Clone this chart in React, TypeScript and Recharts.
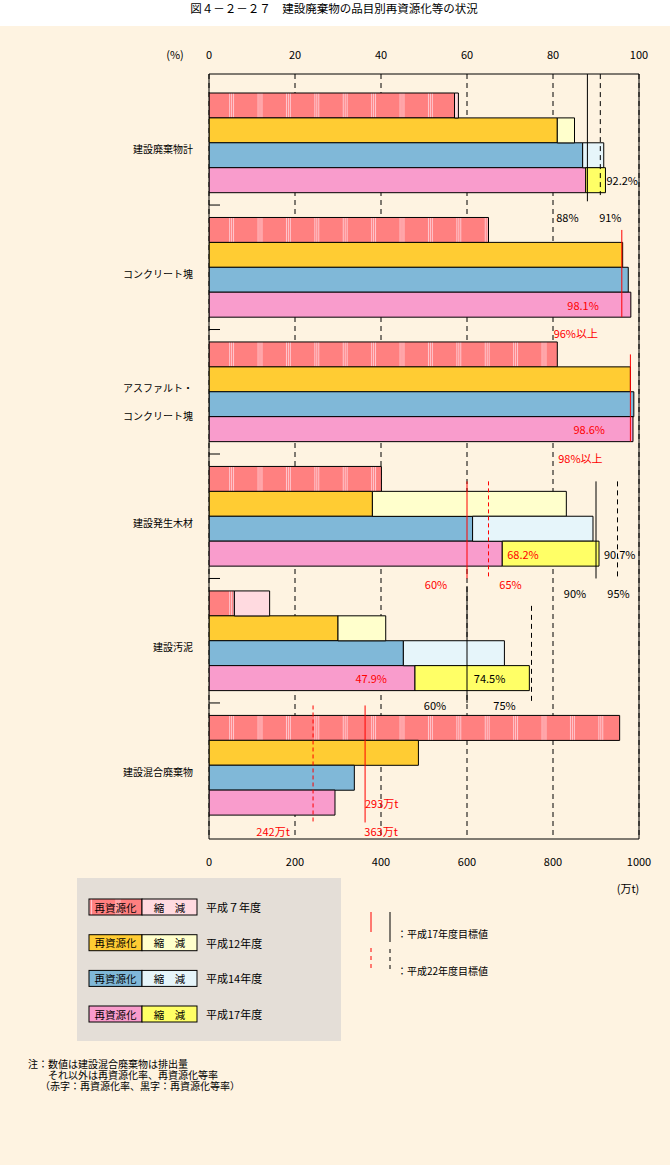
import React from 'react'
import { BarChart, Bar, XAxis, YAxis, CartesianGrid, Cell, ReferenceLine, ReferenceDot } from 'recharts'

const FONT = "'Noto Sans CJK JP', 'Noto Sans', sans-serif"
const BEIGE = '#FEF3E1'

const GROUPS = ['建設廃棄物計', 'コンクリート塊', 'アスファルト・コンクリート塊', '建設発生木材', '建設汚泥', '建設混合廃棄物']
const YEARS = ['平成７年度', '平成12年度', '平成14年度', '平成17年度']

// 再資源化率 (%), GROUPS[0..4] x YEARS
const RECYCLE_RATE = [
  [57.1, 81.0, 86.9, 87.6],
  [65.0, 96.2, 97.5, 98.1],
  [81.0, 98.0, 98.8, 98.6],
  [40.1, 38.0, 61.3, 68.2],
  [5.9, 30.0, 45.2, 47.9],
]
// 再資源化等率 (%), null = no 縮減 part drawn
const RECOVERY_RATE: (number | null)[][] = [
  [58.0, 85.0, 91.8, 92.2],
  [null, null, null, null],
  [null, null, null, null],
  [null, 83.1, 89.3, 90.7],
  [14.1, 41.1, 68.7, 74.5],
]
// 建設混合廃棄物 排出量 (万t)
const MIXED_WASTE = [955, 487, 338, 293]

const PCT_TICKS = [0, 20, 40, 60, 80, 100]
const TON_TICKS = [0, 200, 400, 600, 800, 1000]
const TON_TO_PCT = 0.1 // 1000万t spans the same width as 100%

// 目標値: [group, value, 平成17(solid)/22(dashed), red text?, label]
const TARGETS: [number, number, 17 | 22, boolean, string][] = [
  [0, 88, 17, false, '88%'],
  [0, 91, 22, false, '91%'],
  [1, 96, 17, true, '96%以上'],
  [2, 98, 17, true, '98%以上'],
  [3, 60, 17, true, '60%'],
  [3, 65, 22, true, '65%'],
  [3, 90, 17, false, '90%'],
  [3, 95, 22, false, '95%'],
  [4, 60, 17, false, '60%'],
  [4, 75, 22, false, '75%'],
  [5, 363, 17, true, '363万t'],
  [5, 242, 22, true, '242万t'],
]
// line span / label row (row units from the first bar's top edge) and label shift, same order as TARGETS
const TARGET_LAYOUT = [
  { from: -0.76, to: 4.35, ly: 4.98, dx: -20 },
  { from: -0.76, to: 4.1, ly: 4.98, dx: 10 },
  { from: 5.5, to: 9, ly: 9.64, dx: -46 },
  { from: 10.5, to: 14, ly: 14.66, dx: -50 },
  { from: 15.6, to: 19.5, ly: 19.72, dx: -31 },
  { from: 15.6, to: 19.5, ly: 19.72, dx: 22 },
  { from: 15.6, to: 19.5, ly: 20.08, dx: -21 },
  { from: 15.6, to: 19.5, ly: 20.08, dx: 1 },
  { from: 19.8, to: 24.5, ly: 24.6, dx: -32 },
  { from: 20.6, to: 24.5, ly: 24.6, dx: -27 },
  { from: 24.6, to: 29.3, ly: 29.64, dx: 16 },
  { from: 24.6, to: 29.3, ly: 29.64, dx: -40 },
]
// label shift from the 平成17年度 bar end (null = no label)
const REC_LABEL_DX = [null, -32, -28, 5, -28, 30]
const TOTAL_LABEL_DX = [1, null, null, 5, -24, null]

const REC_FILL = ['url(#stripeH7)', '#FFCC33', '#80B8D8', '#F99CCC']
const RED_FILL = ['#FFDAE0', '#FFFFCC', '#E6F5FA', '#FFFF66']
const LEGEND_FILL = ['#FF8080', '#FFCC33', '#80B8D8', '#F99CCC']

type Row = { key: string; group: number; year: number | null; rec: number | null; red: number | null }
const rows: Row[] = []
GROUPS.forEach((_, gi) => {
  YEARS.forEach((__, yi) => {
    if (gi < RECYCLE_RATE.length) {
      const rec = RECYCLE_RATE[gi][yi]
      const total = RECOVERY_RATE[gi][yi]
      rows.push({ key: `${gi}-${yi}`, group: gi, year: yi, rec, red: total == null ? null : +(total - rec).toFixed(2) })
    } else {
      rows.push({ key: `${gi}-${yi}`, group: gi, year: yi, rec: MIXED_WASTE[yi] * TON_TO_PCT, red: null })
    }
  })
  if (gi < GROUPS.length - 1) rows.push({ key: `gap-${gi}`, group: gi, year: null, rec: null, red: null })
})
const ROW_COUNT = rows.length
const PLOT_H = 765
const PAD = { top: 19, bottom: 24 }
// hidden row axis (domain = row index): one unit per bar row
const ROW_PX = (PLOT_H - PAD.top - PAD.bottom) / ROW_COUNT
const ROW_PAD = { top: PAD.top, bottom: PAD.bottom + ROW_PX }

function CategoryTick(props: any) {
  const { x, y, payload } = props
  const row = rows.find(r => r.key === payload.value)
  if (!row) return null
  if (row.year === null) return <line x1={x + 16} x2={x + 27} y1={y} y2={y} stroke="#000" />
  if (row.year !== 2) return null
  const name = GROUPS[row.group]
  const lines = name === 'アスファルト・コンクリート塊' ? ['アスファルト・', 'コンクリート塊'] : [name]
  const ys = lines.length === 2 ? [y - 16.5, y + 11.5] : [y - 6.5]
  return (
    <g>
      {lines.map((t, i) => (
        <text key={t} x={x} y={ys[i]} textAnchor="end" dominantBaseline="central" fontSize={10} fontFamily={FONT} fill="#000">{t}</text>
      ))}
    </g>
  )
}

const textAt = (text: string, dx: number, color: string, anchor: 'start' | 'middle' | 'end') => (p: any) => {
  const vb = p.viewBox ?? p
  return (
    <text x={vb.x + dx} y={vb.y} textAnchor={anchor} dominantBaseline="central" fontSize={11} fontFamily={FONT} fill={color}>{text}</text>
  )
}

function Background() {
  const legendY = [907, 942.7, 978.4, 1014]
  return (
    <svg width={670} height={1165} style={{ position: 'absolute', left: 0, top: 0 }}>
      <defs>
        <pattern id="stripeH7" patternUnits="userSpaceOnUse" x={0} y={0} width={28.4} height={10}>
          <rect width={28.4} height={10} fill="#FF8080" />
          <rect x={2} width={1} height={10} fill="#FFC8D0" shapeRendering="crispEdges" />
          <rect x={4} width={1} height={10} fill="#FFC8D0" shapeRendering="crispEdges" />
          <rect x={6} width={1} height={10} fill="#FFC8D0" shapeRendering="crispEdges" />
        </pattern>
      </defs>
      <rect width={670} height={26} fill="#fff" />
      <text x={334} y={8} textAnchor="middle" dominantBaseline="central" fontSize={11.5} fontFamily={FONT}>図４－２－２７　建設廃棄物の品目別再資源化等の状況</text>
      <text x={175} y={54} textAnchor="middle" dominantBaseline="central" fontSize={11} fontFamily={FONT}>(%)</text>
      <text x={628} y={888} textAnchor="middle" dominantBaseline="central" fontSize={11} fontFamily={FONT}>(万t)</text>

      <rect x={77} y={878} width={264} height={163} fill="#E4DED7" />
      {YEARS.map((yr, i) => (
        <g key={yr}>
          <rect x={89} y={legendY[i] - 8} width={53} height={16} fill={i === 0 ? 'url(#stripeH7)' : LEGEND_FILL[i]} stroke="#000" />
          <rect x={142} y={legendY[i] - 8} width={55} height={16} fill={RED_FILL[i]} stroke="#000" />
          <text x={115.5} y={legendY[i]} textAnchor="middle" dominantBaseline="central" fontSize={10.5} fontFamily={FONT}>再資源化</text>
          <text x={169.5} y={legendY[i]} textAnchor="middle" dominantBaseline="central" fontSize={10.5} fontFamily={FONT}>縮　減</text>
          <text x={206} y={legendY[i]} dominantBaseline="central" fontSize={11} fontFamily={FONT}>{yr}</text>
        </g>
      ))}

      <line x1={371} x2={371} y1={912} y2={932} stroke="#FF0000" />
      <line x1={390} x2={390} y1={912} y2={942} stroke="#000" />
      <text x={397} y={933} dominantBaseline="central" fontSize={10} fontFamily={FONT}>：平成17年度目標値</text>
      <line x1={371} x2={371} y1={948} y2={972} stroke="#FF0000" strokeDasharray="4 4" />
      <line x1={390} x2={390} y1={949} y2={973} stroke="#000" strokeDasharray="4 4" />
      <text x={397} y={970} dominantBaseline="central" fontSize={10} fontFamily={FONT}>：平成22年度目標値</text>

      <text x={28} y={1063} dominantBaseline="central" fontSize={10} fontFamily={FONT}>注：数値は建設混合廃棄物は排出量</text>
      <text x={48} y={1074} dominantBaseline="central" fontSize={10} fontFamily={FONT}>それ以外は再資源化率、再資源化等率</text>
      <text x={40} y={1085} dominantBaseline="central" fontSize={10} fontFamily={FONT}>（赤字：再資源化率、黒字：再資源化等率）</text>
    </svg>
  )
}

export default function App() {
  const h17 = YEARS.length - 1
  return (
    <div style={{ position: 'absolute', left: 0, top: 0, width: 670, height: 1165, background: BEIGE, overflow: 'hidden', fontFamily: FONT }}>
      <Background />
      <div style={{ position: 'absolute', left: 0, top: 0 }}>
        <BarChart
          width={670}
          height={900}
          data={rows}
          layout="vertical"
          margin={{ top: 0, right: 31, bottom: 0, left: 0 }}
          barCategoryGap={0}
          barGap={0}
        >
          <CartesianGrid xAxisId="pct" yAxisId="cat" horizontal={false} stroke="#000" strokeDasharray="5 4" />
          <XAxis
            xAxisId="pct"
            orientation="top"
            type="number"
            domain={[0, 100]}
            ticks={PCT_TICKS}
            interval={0}
            height={74}
            allowDataOverflow
            axisLine={{ stroke: '#000' }}
            tickLine={false}
            tickSize={0}
            tickMargin={15}
            tick={{ fill: '#000', fontSize: 11, fontFamily: FONT }}
          />
          <XAxis
            xAxisId="ton"
            orientation="bottom"
            type="number"
            domain={[0, 1000]}
            ticks={TON_TICKS}
            interval={0}
            height={61}
            allowDataOverflow
            axisLine={{ stroke: '#000' }}
            tickLine={false}
            tickSize={0}
            tickMargin={19}
            tick={{ fill: '#000', fontSize: 11, fontFamily: FONT }}
          />
          <YAxis
            yAxisId="cat"
            type="category"
            dataKey="key"
            width={209}
            padding={PAD}
            interval={0}
            axisLine={{ stroke: '#000' }}
            tickLine={false}
            tickSize={0}
            tickMargin={16}
            tick={<CategoryTick />}
          />
          <YAxis yAxisId="row" type="number" domain={[0, ROW_COUNT - 1]} padding={ROW_PAD} hide allowDataOverflow />

          <Bar xAxisId="pct" yAxisId="cat" dataKey="rec" stackId="s" stroke="#000" strokeWidth={1} isAnimationActive={false}>
            {rows.map(r => (
              <Cell key={r.key} fill={r.year === null ? 'none' : REC_FILL[r.year]} />
            ))}
          </Bar>
          <Bar xAxisId="pct" yAxisId="cat" dataKey="red" stackId="s" stroke="#000" strokeWidth={1} isAnimationActive={false}>
            {rows.map(r => (
              <Cell key={r.key} fill={r.year === null ? 'none' : RED_FILL[r.year]} />
            ))}
          </Bar>

          <ReferenceLine xAxisId="pct" yAxisId="cat" x={100} stroke="#000" />

          {TARGETS.map(([g, v, yr, red], i) => {
            const lay = TARGET_LAYOUT[i]
            const axis = g === GROUPS.length - 1 ? 'ton' : 'pct'
            const lineColor = g === 4 ? '#000' : red ? '#FF0000' : '#000'
            return (
              <ReferenceLine
                key={`t-${i}`}
                xAxisId={axis}
                yAxisId="row"
                segment={[{ x: v, y: lay.from }, { x: v, y: lay.to }]}
                stroke={lineColor}
                strokeDasharray={yr === 22 ? (red ? '4 3' : '5 4') : undefined}
                ifOverflow="visible"
              />
            )
          })}
          {TARGETS.map(([g, v, , red, label], i) => {
            const lay = TARGET_LAYOUT[i]
            const axis = g === GROUPS.length - 1 ? 'ton' : 'pct'
            return (
              <ReferenceDot
                key={`tl-${i}`}
                xAxisId={axis}
                yAxisId="row"
                x={v}
                y={lay.ly}
                r={0}
                fill="none"
                stroke="none"
                ifOverflow="visible"
                label={textAt(label, lay.dx, red ? '#FF0000' : '#000', 'middle')}
              />
            )
          })}

          {GROUPS.map((_, g) => {
            const dx = REC_LABEL_DX[g]
            if (dx == null) return null
            const isTon = g === GROUPS.length - 1
            const v = isTon ? MIXED_WASTE[h17] : RECYCLE_RATE[g][h17]
            return (
              <ReferenceDot
                key={`rl-${g}`}
                xAxisId={isTon ? 'ton' : 'pct'}
                yAxisId="row"
                x={v}
                y={g * (YEARS.length + 1) + h17 + 0.5}
                r={0}
                fill="none"
                stroke="none"
                ifOverflow="visible"
                label={textAt(isTon ? `${v}万t` : `${v}%`, dx, '#FF0000', dx < 0 ? 'end' : 'start')}
              />
            )
          })}
          {GROUPS.map((_, g) => {
            const dx = TOTAL_LABEL_DX[g]
            const v = RECOVERY_RATE[g]?.[h17]
            if (dx == null || v == null) return null
            return (
              <ReferenceDot
                key={`tt-${g}`}
                xAxisId="pct"
                yAxisId="row"
                x={v}
                y={g * (YEARS.length + 1) + h17 + 0.5}
                r={0}
                fill="none"
                stroke="none"
                ifOverflow="visible"
                label={textAt(`${v}%`, dx, '#000', dx < 0 ? 'end' : 'start')}
              />
            )
          })}
        </BarChart>
      </div>
    </div>
  )
}
